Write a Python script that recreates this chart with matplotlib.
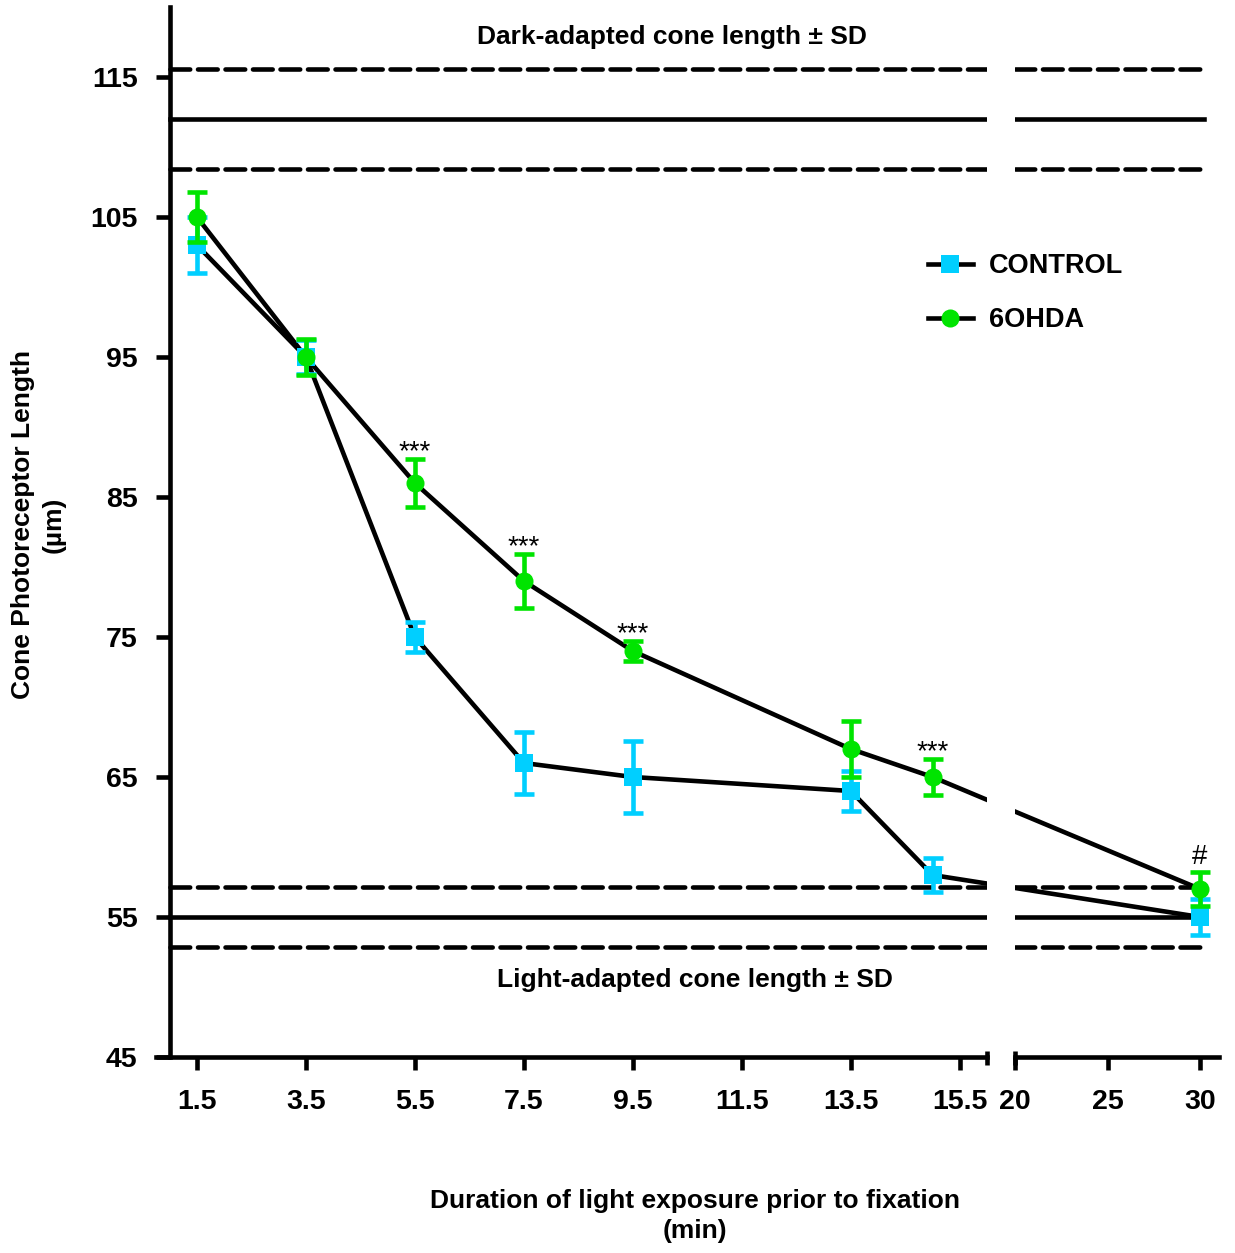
import numpy as np
import matplotlib
matplotlib.use("Agg")
import matplotlib.pyplot as plt
from matplotlib.lines import Line2D
from matplotlib import font_manager

plt.rcParams['font.family'] = ['Liberation Sans', 'DejaVu Sans']

# ---------------- data ----------------
x_left_ticks = [1.5, 3.5, 5.5, 7.5, 9.5, 11.5, 13.5, 15.5]
x_right_ticks = [20, 25, 30]
y_ticks = [45, 55, 65, 75, 85, 95, 105, 115]

times = [1.5, 3.5, 5.5, 7.5, 9.5, 13.5, 15, 30]
control_mean = [103, 95, 75, 66, 65, 64, 58, 55]
control_sd = [2.0, 1.2, 1.1, 2.2, 2.6, 1.4, 1.2, 1.3]
ohda_mean = [105, 95, 86, 79, 74, 67, 65, 57]
ohda_sd = [1.8, 1.3, 1.7, 1.9, 0.7, 2.0, 1.3, 1.2]

sig_times = [5.5, 7.5, 9.5, 15, 30]
sig_marks = ['***', '***', '***', '***', '#']

dark_mean, dark_sd = 112.0, 3.6
light_mean, light_sd = 55.0, 2.15

CYAN = '#00CFFF'
GREEN = '#00E400'
LW = 3.3

narrow = 'Liberation Sans Narrow'
have_narrow = any(f.name == narrow for f in font_manager.fontManager.ttflist)
tick_family = [narrow, 'Liberation Sans'] if have_narrow else ['Liberation Sans']

# ---------------- figure / broken axes ----------------
W, H = 1235, 1253
fig = plt.figure(figsize=(W / 100, H / 100), dpi=100)

bottom = (H - 1057) / H
height = 1050 / H
axL = fig.add_axes([156 / W, bottom, 831 / W, height])
axR = fig.add_axes([1015 / W, bottom, 203.5 / W, height])

axL.set_xlim(0.75, 16)
axR.set_xlim(20, 31)
for ax in (axL, axR):
    ax.set_ylim(45, 120)
    ax.patch.set_alpha(0)
    ax.spines['top'].set_visible(False)
    ax.spines['right'].set_visible(False)
    ax.spines['bottom'].set_linewidth(LW)
    ax.tick_params(axis='x', direction='out', length=9, width=LW, pad=14,
                   labelsize=20.5)
axR.spines['left'].set_visible(False)
axR.tick_params(axis='y', left=False, labelleft=False)
axL.spines['left'].set_position(('data', 1))
axL.spines['left'].set_linewidth(LW)
axL.tick_params(axis='y', direction='out', length=10, width=LW, pad=13,
                labelsize=20.5)

axL.set_xticks(x_left_ticks)
axL.set_xticklabels([f'{t:g}' for t in x_left_ticks])
axR.set_xticks(x_right_ticks)
axR.set_xticklabels([str(t) for t in x_right_ticks])
axL.set_yticks(y_ticks)
for lab in axL.get_xticklabels() + axR.get_xticklabels():
    lab.set_fontweight('bold')
    lab.set_family(tick_family)
for lab in axL.get_yticklabels():
    lab.set_fontweight('bold')

# break marks on the x axis
axL.plot([16, 16], [44.45, 45.45], color='black', lw=LW, clip_on=False,
         solid_capstyle='butt')
axR.plot([20, 20], [44.45, 45.45], color='black', lw=LW, clip_on=False,
         solid_capstyle='butt')


def to_axis(ax_from, ax_to, xs, ys):
    pts = ax_from.transData.transform(np.column_stack([xs, ys]))
    return ax_to.transData.inverted().transform(pts)[:, 0]


# ---------------- reference lines ----------------
dash = dict(color='black', lw=LW, dashes=(4.3, 1.7), dash_capstyle='round')
for ax, (x0, x1) in ((axL, (1, 16)), (axR, (20, 30.2))):
    ax.plot([x0, x1], [dark_mean, dark_mean], color='black', lw=LW, zorder=1)
    ax.plot([x0, x1], [dark_mean + dark_sd] * 2, zorder=1, **dash)
    ax.plot([x0, x1], [dark_mean - dark_sd] * 2, zorder=1, **dash)
    ax.plot([x0, x1], [light_mean, light_mean], color='black', lw=LW, zorder=1)
    ax.plot([x0, x1], [light_mean + light_sd] * 2, zorder=1, **dash)
    ax.plot([x0, x1], [light_mean - light_sd] * 2, zorder=1, **dash)

# ---------------- series ----------------
times = np.array(times, dtype=float)
left_mask = times <= 16
for mean, sd, color, marker, z in ((control_mean, control_sd, CYAN, 's', 3),
                                   (ohda_mean, ohda_sd, GREEN, 'o', 4)):
    mean = np.array(mean, dtype=float)
    sd = np.array(sd, dtype=float)
    # connecting line, straight in screen space across the break
    xl = times.copy()
    xl[~left_mask] = to_axis(axR, axL, times[~left_mask], mean[~left_mask])
    axL.plot(xl, mean, color='black', lw=LW, zorder=2)
    xr = times.copy()
    xr[left_mask] = to_axis(axL, axR, times[left_mask], mean[left_mask])
    axR.plot(xr, mean, color='black', lw=LW, zorder=2)
    for ax, m in ((axL, left_mask), (axR, ~left_mask)):
        ax.errorbar(times[m], mean[m], yerr=sd[m], fmt='none', ecolor=color,
                    elinewidth=LW, capsize=7.5, capthick=LW, zorder=z)
        ax.plot(times[m], mean[m], linestyle='none', marker=marker,
                markersize=13, color=color, markeredgewidth=0, zorder=z + 0.1)

# significance marks
ohda_lookup = dict(zip(times, zip(ohda_mean, ohda_sd)))
for t, mark in zip(sig_times, sig_marks):
    m, s = ohda_lookup[t]
    ax = axL if t <= 16 else axR
    off = 0.0 if mark == '***' else 0.55
    ax.text(t, m + s + off, mark, ha='center', va='baseline', fontsize=20,
            zorder=5)

# ---------------- text ----------------
axL.text(10.22, 117.86, 'Dark-adapted cone length \u00b1 SD', ha='center',
         va='center', fontsize=19, fontweight='bold')
axL.text(10.64, 50.5, 'Light-adapted cone length \u00b1 SD', ha='center',
         va='center', fontsize=19, fontweight='bold')

fig.text(38 / W, 1 - 525 / H, 'Cone Photoreceptor Length\n(\u00b5m)',
         rotation=90, ha='center', va='center', multialignment='center',
         fontsize=19, fontweight='bold', linespacing=1.35)
fig.text(695 / W, 1 - 1216 / H,
         'Duration of light exposure prior to fixation\n(min)',
         ha='center', va='center', multialignment='center', fontsize=19,
         fontweight='bold', linespacing=1.3)

# ---------------- legend ----------------
handles = [
    Line2D([], [], color='black', lw=LW, marker='s', markersize=13,
           markerfacecolor=CYAN, markeredgewidth=0),
    Line2D([], [], color='black', lw=LW, marker='o', markersize=13,
           markerfacecolor=GREEN, markeredgewidth=0),
]
leg = axL.legend(handles, ['CONTROL', '6OHDA'], loc='upper left',
                 bbox_to_anchor=(928 / W, 1 - 253 / H),
                 bbox_transform=fig.transFigure, frameon=False,
                 borderpad=0, borderaxespad=0, handlelength=1.65,
                 handletextpad=0.6, labelspacing=1.05,
                 prop=dict(size=19.5, weight='bold'))

fig.savefig('out.png', dpi=100)
